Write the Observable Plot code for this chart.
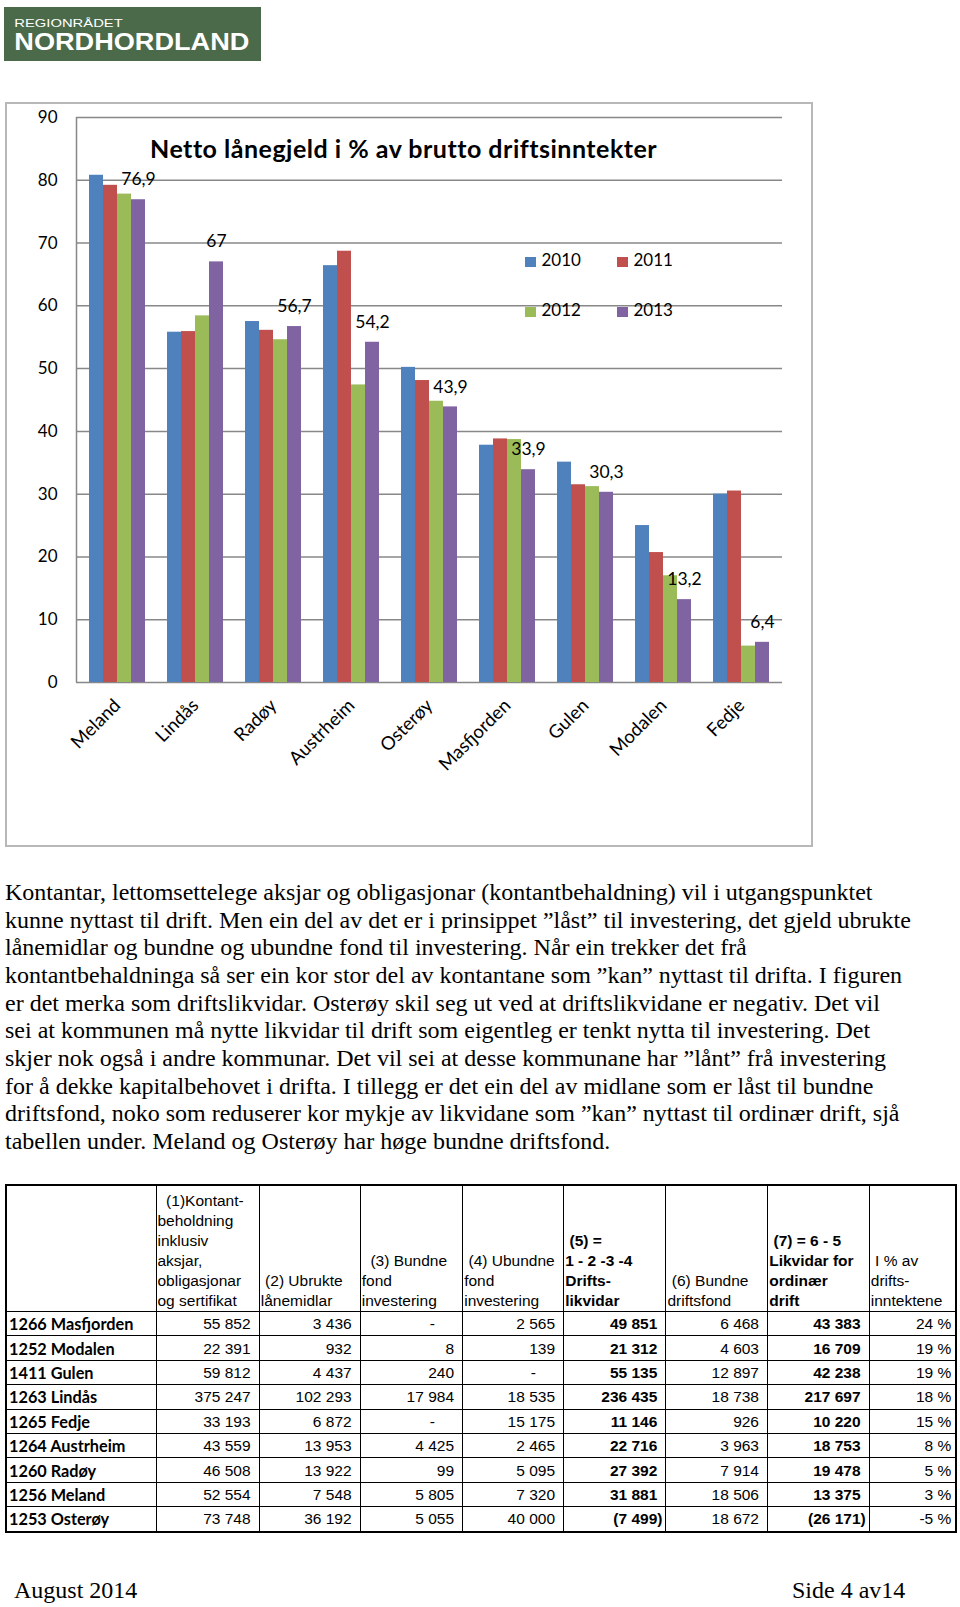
<!DOCTYPE html>
<html><head><meta charset="utf-8">
<script src="https://cdn.jsdelivr.net/npm/d3@7"></script>
<script src="https://cdn.jsdelivr.net/npm/@observablehq/plot@0.6"></script>
<style>
html,body{margin:0;padding:0;background:#fff}
body{width:960px;height:1607px;position:relative;overflow:hidden}
.abs{position:absolute}
#chartbox{left:5px;top:102px;width:804px;height:741px;border:2px solid #b8b8b8}
#bg,#fg{left:5px;top:103px}
#title{left:150px;top:136px;font:bold 25px Lato,sans-serif;letter-spacing:0.5px;color:#000;white-space:nowrap;line-height:25px}
#legend{left:525px;top:251px;display:grid;grid-template-columns:92px 92px;row-gap:33px;font:17px Lato,sans-serif;line-height:17px}
#legend .it{display:flex;align-items:flex-end;white-space:nowrap}
#legend .sw{width:10.5px;height:10.5px;margin-right:6px;margin-bottom:1px}
#para{left:5px;top:879px;font-family:"Liberation Serif","Times New Roman",serif;font-size:24px;line-height:27.66px;color:#000}
#para div{white-space:nowrap}
#tbl{left:5px;top:1184px}
table{border-collapse:collapse;table-layout:fixed;border:2px solid #000;font-family:"Liberation Sans",Arial,sans-serif;font-size:15.5px;color:#000}
td{border:1px solid #000;padding:0 3px 0 2px;overflow:hidden;white-space:nowrap}
tr.h td{height:125px;vertical-align:bottom;line-height:20px;text-align:left;padding-left:1px}
tr.d td{height:23.4px;line-height:23px;text-align:right}
tr.d td.n{text-align:left;font-family:Lato,sans-serif;font-weight:bold;font-size:16.3px;padding-left:2px}
td.b{font-weight:bold}
.hid{visibility:hidden}
#foot1{left:14px;top:1577px;font-family:"Liberation Serif",serif;font-size:24px;line-height:27.66px}
#foot2{left:792px;top:1577px;font-family:"Liberation Serif",serif;font-size:24px;line-height:27.66px}
</style></head>
<body>
<svg class="abs" style="left:4px;top:7px" width="258" height="55">
  <rect x="0" y="0" width="257" height="54" fill="#4b6a4a"/>
  <text x="10.3" y="19.6" fill="#fff" font-family="Liberation Sans, sans-serif" font-size="11.6" textLength="108.4" lengthAdjust="spacingAndGlyphs">REGIONRÅDET</text>
  <text x="10.3" y="43" fill="#fff" font-family="Liberation Sans, sans-serif" font-weight="bold" font-size="23.5" textLength="235" lengthAdjust="spacingAndGlyphs">NORDHORDLAND</text>
</svg>
<div id="chartbox" class="abs"></div>
<div id="bg" class="abs"></div>
<div id="fg" class="abs"></div>
<div id="title" class="abs">Netto lånegjeld i % av brutto driftsinntekter</div>
<div id="legend" class="abs"></div>
<div id="para" class="abs"></div>
<div id="tbl" class="abs"></div>
<div id="foot1" class="abs">August 2014</div>
<div id="foot2" class="abs">Side 4 av14</div>
<script>
// ---------- chart data ----------
const municipalities = ["Meland","Lindås","Radøy","Austrheim","Osterøy","Masfjorden","Gulen","Modalen","Fedje"];
const years = ["2010","2011","2012","2013"];
const v2010 = [80.8, 55.8, 57.5, 66.4, 50.2, 37.8, 35.1, 25.0, 30.0];
const v2011 = [79.2, 55.9, 56.1, 68.7, 48.1, 38.8, 31.5, 20.7, 30.5];
const v2012 = [77.8, 58.4, 54.6, 47.4, 44.8, 38.7, 31.2, 17.0, 5.8];
const v2013 = [76.9, 67.0, 56.7, 54.2, 43.9, 33.9, 30.3, 13.2, 6.4];
const labelledYear = "2013";
const colors = ["#4F81BD", "#C0504D", "#9BBB59", "#8064A2"];
const yTicks = [0, 10, 20, 30, 40, 50, 60, 70, 80, 90];

// ---------- text ----------
const paragraphLines = [
  "Kontantar, lettomsettelege aksjar og obligasjonar (kontantbehaldning) vil i utgangspunktet",
  "kunne nyttast til drift. Men ein del av det er i prinsippet ”låst” til investering, det gjeld ubrukte",
  "lånemidlar og bundne og ubundne fond til investering. Når ein trekker det frå",
  "kontantbehaldninga så ser ein kor stor del av kontantane som ”kan” nyttast til drifta. I figuren",
  "er det merka som driftslikvidar. Osterøy skil seg ut ved at driftslikvidane er negativ. Det vil",
  "sei at kommunen må nytte likvidar til drift som eigentleg er tenkt nytta til investering. Det",
  "skjer nok også i andre kommunar. Det vil sei at desse kommunane har ”lånt” frå investering",
  "for å dekke kapitalbehovet i drifta. I tillegg er det ein del av midlane som er låst til bundne",
  "driftsfond, noko som reduserer kor mykje av likvidane som ”kan” nyttast til ordinær drift, sjå",
  "tabellen under. Meland og Osterøy har høge bundne driftsfond."
];

// ---------- table data ----------
const tableHeaders = [
  "",
  "&nbsp;&nbsp;(1)Kontant-<br>beholdning<br>inklusiv<br>aksjar,<br>obligasjonar<br>og sertifikat",
  "&nbsp;(2) Ubrukte<br>lånemidlar",
  "&nbsp;&nbsp;(3) Bundne<br>fond<br>investering",
  "&nbsp;(4) Ubundne<br>fond<br>investering",
  "<b>&nbsp;(5) =<br>1 - 2 -3 -4<br>Drifts-<br>likvidar</b>",
  "&nbsp;(6) Bundne<br>driftsfond",
  "<b>&nbsp;(7) = 6 - 5<br>Likvidar for<br>ordinær<br>drift</b>",
  "&nbsp;I % av<br>drifts-<br>inntektene"
];
const tableRows = ["1266 Masfjorden","1252 Modalen","1411 Gulen","1263 Lindås","1265 Fedje","1264 Austrheim","1260 Radøy","1256 Meland","1253 Osterøy"];
const kontantbehaldning = [55852, 22391, 59812, 375247, 33193, 43559, 46508, 52554, 73748];
const ubrukteLanemidlar = [3436, 932, 4437, 102293, 6872, 13953, 13922, 7548, 36192];
const bundneFondInv = [null, 8, 240, 17984, null, 4425, 99, 5805, 5055];
const ubundneFondInv = [2565, 139, null, 18535, 15175, 2465, 5095, 7320, 40000];
const driftslikvidar = [49851, 21312, 55135, 236435, 11146, 22716, 27392, 31881, -7499];
const bundneDriftsfond = [6468, 4603, 12897, 18738, 926, 3963, 7914, 18506, 18672];
const likvidarOrdinaer = [43383, 16709, 42238, 217697, 10220, 18753, 19478, 13375, -26171];
const prosentAvDrift = [24, 19, 19, 18, 15, 8, 5, 3, -5];
const colWidths = [150, 103.3, 101, 102.4, 101, 102.3, 101.7, 101.6, 87];

// ---------- chart ----------
const series = [v2010, v2011, v2012, v2013];
const rows = municipalities.flatMap((m, i) => years.map((y, j) => ({m, year: y, value: series[j][i]})));
const fmtDec = v => d3.format(".1~f")(v).replace(".", ",");

const W = 808, H = 744;
const margins = {marginLeft: 71, marginRight: 31, marginTop: 14, marginBottom: 165};

const bg = Plot.plot({
  width: W, height: H, ...margins,
  style: {fontFamily: "Lato, sans-serif", fontSize: "17px", color: "#000", background: "transparent", overflow: "visible"},
  x: {domain: [0, 1], axis: null},
  y: {domain: [0, 90], axis: null},
  marks: [
    Plot.ruleY(yTicks, {y: d => d, stroke: "#888", strokeWidth: 1.5}),
    Plot.ruleX([0], {x: d => d, y1: 0, y2: 90, stroke: "#888", strokeWidth: 1.5}),
    Plot.axisY(yTicks, {tickSize: 0, tickPadding: 19, fontSize: 17, fill: "#000"})
  ]
});
document.getElementById("bg").appendChild(bg);

const fg = Plot.plot({
  width: W, height: H, ...margins,
  style: {fontFamily: "Lato, sans-serif", fontSize: "18.5px", color: "#000", background: "transparent", overflow: "visible"},
  fx: {domain: municipalities, paddingInner: 0.277, paddingOuter: 0.1385, label: null, axis: "bottom", tickRotate: -45, tickSize: 0, tickPadding: 20},
  x: {domain: years, padding: 0, axis: null},
  y: {domain: [0, 90], axis: null},
  color: {domain: years, range: colors},
  marks: [
    Plot.barY(rows, {fx: "m", x: "year", y: "value", fill: "year", inset: 0}),
    Plot.text(rows.filter(d => d.year === labelledYear), {fx: "m", x: "year", y: "value", text: d => fmtDec(d.value), dy: -20, fontSize: 17.5, fill: "#000"})
  ]
});
document.getElementById("fg").appendChild(fg);

// legend
const legend = document.getElementById("legend");
years.forEach((y, i) => {
  const it = document.createElement("div");
  it.className = "it";
  it.innerHTML = `<span class="sw" style="background:${colors[i]}"></span><span>${y}</span>`;
  legend.appendChild(it);
});

// paragraph
const para = document.getElementById("para");
paragraphLines.forEach(t => { const d = document.createElement("div"); d.textContent = t; para.appendChild(d); });

// table
const fmtN = v => d3.format(",")(Math.abs(v)).replace(/,/g, " ");
function cell(v, bold) {
  const cls = bold ? ' class="b"' : "";
  if (v == null) return `<td${cls}><span style="margin-right:19px">-</span><span class="hid">)</span></td>`;
  if (v < 0) return `<td${cls}>(${fmtN(v)})</td>`;
  return `<td${cls}>${fmtN(v)}<span class="hid">)</span></td>`;
}
let html = "<table><colgroup>" + colWidths.map(w => `<col style="width:${w}px">`).join("") + "</colgroup>";
html += '<tr class="h">' + tableHeaders.map(h => `<td>${h}</td>`).join("") + "</tr>";
tableRows.forEach((name, i) => {
  html += '<tr class="d">' + `<td class="n">${name}</td>` +
    cell(kontantbehaldning[i]) + cell(ubrukteLanemidlar[i]) + cell(bundneFondInv[i]) + cell(ubundneFondInv[i]) +
    cell(driftslikvidar[i], true) + cell(bundneDriftsfond[i]) + cell(likvidarOrdinaer[i], true) +
    `<td style="padding-right:4px">${prosentAvDrift[i]} %</td></tr>`;
});
html += "</table>";
document.getElementById("tbl").innerHTML = html;
</script>
</body></html>
